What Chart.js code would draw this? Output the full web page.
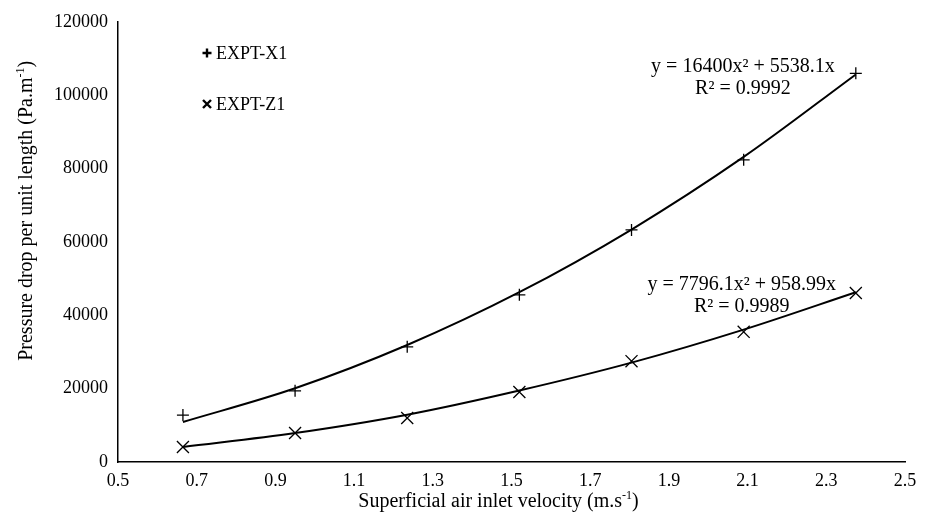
<!DOCTYPE html>
<html>
<head>
<meta charset="utf-8">
<script src="https://cdn.jsdelivr.net/npm/chart.js@4"></script>
<style>
  html, body { margin: 0; padding: 0; background: #fff; }
  #wrap { width: 931px; height: 522px; }
</style>
</head>
<body>
<div id="wrap"><canvas id="chart" width="931" height="522"></canvas></div>
<script>
// values
const velocity = [0.665, 0.95, 1.235, 1.52, 1.805, 2.09, 2.375];
const exptX1 = [12800, 19400, 31400, 45600, 63300, 82400, 106000];
const exptZ1 = [4100, 7900, 12000, 19100, 27500, 35500, 46100];
// trendline heights at the same velocities
const trendX1 = [10900, 20100, 31900, 46300, 63400, 83200, 105700];
const trendZ1 = [4100, 7900, 12900, 19500, 27100, 36100, 46300];

const seriesNames = ['EXPT-X1', 'EXPT-Z1'];
const equations = [
    ['y = 16400x\u00B2 + 5538.1x', 'R\u00B2 = 0.9992'],
    ['y = 7796.1x\u00B2 + 958.99x', 'R\u00B2 = 0.9989']
];
// anchor (x, y) in data units for each equation block
const eqAnchorX = [2.088, 2.085];
const eqAnchorY = [107700, 48300];

const xTicks = [0.5, 0.7, 0.9, 1.1, 1.3, 1.5, 1.7, 1.9, 2.1, 2.3, 2.5];

// axis titles: [main text, superscript, closing]
const xTitle = ['Superficial air inlet velocity (m.s', '-1', ')'];
const yTitle = ['Pressure drop per unit length (Pa.m', '-1', ')'];

const FONT = "'Liberation Serif', 'Times New Roman', serif";

function pts(xs, ys) {
    return xs.map((x, i) => ({ x: x, y: ys[i] }));
}

// draws "main^sup close" centred on (0,0) of the current transform
function drawSupText(ctx, parts) {
    const big = '20px ' + FONT;
    const small = '12px ' + FONT;
    ctx.font = big;
    const w1 = ctx.measureText(parts[0]).width;
    const w3 = ctx.measureText(parts[2]).width;
    ctx.font = small;
    const w2 = ctx.measureText(parts[1]).width;
    let x = -(w1 + w2 + w3) / 2;
    ctx.textAlign = 'left';
    ctx.textBaseline = 'alphabetic';
    ctx.font = big;
    ctx.fillText(parts[0], x, 7);
    x += w1;
    ctx.font = small;
    ctx.fillText(parts[1], x, -1);
    x += w2;
    ctx.font = big;
    ctx.fillText(parts[2], x, 7);
}

// legend, equations and axis titles drawn on top of the plot
const annotations = {
    id: 'annotations',
    afterDraw(chart) {
        const ctx = chart.ctx;
        const area = chart.chartArea;
        const xs = chart.scales.x;
        const ys = chart.scales.y;
        ctx.save();
        ctx.fillStyle = '#000';
        ctx.strokeStyle = '#000';

        // legend
        ctx.font = '18px ' + FONT;
        ctx.textBaseline = 'middle';
        const lx = area.left + 89;
        const rows = [area.top + 31, area.top + 82];
        rows.forEach((ry, i) => {
            ctx.lineWidth = 2.4;
            ctx.beginPath();
            if (i === 0) {
                ctx.moveTo(lx - 4.5, ry); ctx.lineTo(lx + 4.5, ry);
                ctx.moveTo(lx, ry - 4.5); ctx.lineTo(lx, ry + 4.5);
            } else {
                ctx.moveTo(lx - 4, ry - 4); ctx.lineTo(lx + 4, ry + 4);
                ctx.moveTo(lx - 4, ry + 4); ctx.lineTo(lx + 4, ry - 4);
            }
            ctx.stroke();
            ctx.textAlign = 'left';
            ctx.fillText(seriesNames[i], lx + 9, ry + 1);
        });

        // trendline equations
        ctx.font = '20px ' + FONT;
        ctx.textAlign = 'center';
        equations.forEach((lines, i) => {
            const cx = xs.getPixelForValue(eqAnchorX[i]);
            const cy = ys.getPixelForValue(eqAnchorY[i]);
            lines.forEach((t, j) => ctx.fillText(t, cx, cy + j * 22));
        });

        // axis titles
        ctx.save();
        ctx.translate(xs.getPixelForValue(1.467), area.bottom + 38);
        drawSupText(ctx, xTitle);
        ctx.restore();

        ctx.save();
        ctx.translate(area.left - 93, ys.getPixelForValue(68500));
        ctx.rotate(-Math.PI / 2);
        drawSupText(ctx, yTitle);
        ctx.restore();

        ctx.restore();
    }
};

new Chart(document.getElementById('chart'), {
    type: 'scatter',
    data: {
        datasets: [
            {
                label: 'EXPT-X1 trend',
                data: pts(velocity, trendX1),
                showLine: true,
                borderColor: '#000',
                borderWidth: 2,
                pointRadius: 0,
                cubicInterpolationMode: 'monotone',
                fill: false
            },
            {
                label: 'EXPT-Z1 trend',
                data: pts(velocity, trendZ1),
                showLine: true,
                borderColor: '#000',
                borderWidth: 2,
                pointRadius: 0,
                cubicInterpolationMode: 'monotone',
                fill: false
            },
            {
                label: 'EXPT-X1',
                data: pts(velocity, exptX1),
                pointStyle: 'cross',
                pointRadius: 6,
                pointBorderWidth: 1.3,
                pointBorderColor: '#000',
                pointBackgroundColor: '#000'
            },
            {
                label: 'EXPT-Z1',
                data: pts(velocity, exptZ1),
                pointStyle: 'crossRot',
                pointRadius: 8.5,
                pointBorderWidth: 1.3,
                pointBorderColor: '#000',
                pointBackgroundColor: '#000'
            }
        ]
    },
    options: {
        responsive: false,
        animation: false,
        layout: { padding: { left: 0, top: 22, right: 26, bottom: 5 } },
        plugins: {
            legend: { display: false },
            tooltip: { enabled: false }
        },
        scales: {
            x: {
                type: 'linear',
                min: 0.5,
                max: 2.5,
                afterBuildTicks: (scale) => { scale.ticks = xTicks.map(v => ({ value: v })); },
                afterFit: (scale) => { scale.height = 55; },
                grid: { display: false, drawTicks: false },
                border: { display: true, color: '#000', width: 1.5 },
                ticks: {
                    color: '#000',
                    padding: 8,
                    font: { family: FONT, size: 18 },
                    callback: (v) => v.toFixed(1)
                },
                title: { display: false }
            },
            y: {
                min: 0,
                max: 120000,
                afterFit: (scale) => { scale.width = 118; },
                grid: { display: false, drawTicks: false },
                border: { display: true, color: '#000', width: 1.5 },
                ticks: {
                    stepSize: 20000,
                    color: '#000',
                    padding: 10,
                    font: { family: FONT, size: 18 },
                    callback: (v) => String(v)
                },
                title: { display: false }
            }
        }
    },
    plugins: [annotations]
});
</script>
</body>
</html>
